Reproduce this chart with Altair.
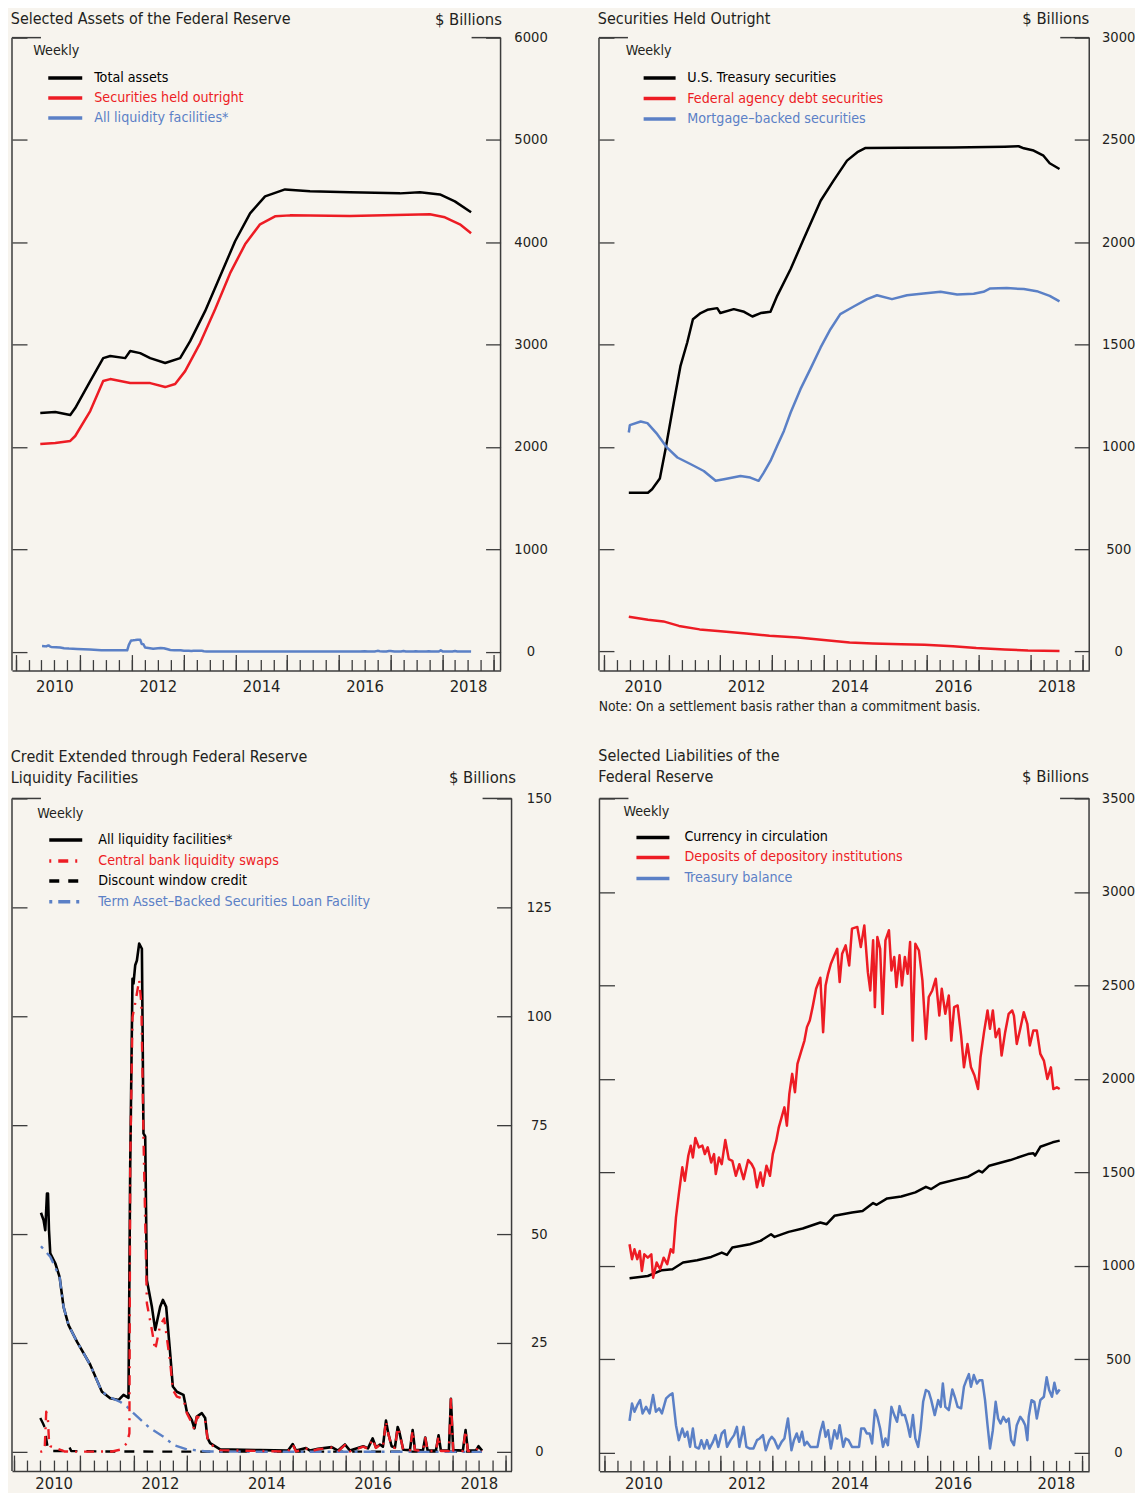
import altair as alt
import pandas as pd

# ---------------- data (decimal year, $ billions) ----------------
# Panel 1: Selected Assets of the Federal Reserve
TOTAL_ASSETS = [(2010.227, 2332), (2010.517, 2341), (2010.807, 2312), (2010.903, 2380), (2011.193, 2644),
                (2011.444, 2868), (2011.580, 2888), (2011.870, 2868), (2011.966, 2937), (2012.159, 2917),
                (2012.353, 2868), (2012.643, 2820), (2012.932, 2868), (2013.126, 3034), (2013.415, 3327),
                (2013.705, 3668), (2013.995, 4010), (2014.285, 4283), (2014.575, 4449), (2014.961, 4517),
                (2015.444, 4498), (2016.217, 4488), (2017.184, 4478), (2017.570, 4488), (2017.957, 4468),
                (2018.246, 4400), (2018.560, 4293)]
SEC_OUTRIGHT = [(2010.227, 2029), (2010.517, 2039), (2010.807, 2059), (2010.903, 2107), (2011.193, 2351),
                (2011.444, 2644), (2011.580, 2663), (2011.966, 2624), (2012.353, 2624), (2012.643, 2585),
                (2012.836, 2615), (2013.029, 2741), (2013.319, 3015), (2013.609, 3346), (2013.899, 3698),
                (2014.188, 3980), (2014.478, 4176), (2014.768, 4254), (2015.058, 4263), (2016.217, 4258),
                (2017.763, 4273), (2018.053, 4244), (2018.343, 4176), (2018.560, 4088)]
# All liquidity facilities (panel 1 and panel 3)
ALL_LIQ = [(2010.261, 54.9), (2010.310, 53.2), (2010.342, 50.9), (2010.374, 59.3), (2010.393, 59.3),
           (2010.412, 50.9), (2010.436, 45.6), (2010.530, 43.3), (2010.611, 40.2), (2010.686, 33.3),
           (2010.780, 29.1), (2010.938, 25.3), (2011.188, 20.0), (2011.408, 13.8), (2011.564, 12.3),
           (2011.720, 11.9), (2011.814, 13.1), (2011.908, 12.4), (2011.940, 65.4), (2011.983, 108.6),
           (2012.002, 107.5), (2012.034, 111.7), (2012.066, 112.8), (2012.109, 116.7), (2012.160, 115.5),
           (2012.190, 73.1), (2012.222, 72.4), (2012.254, 39.4), (2012.348, 33.3), (2012.410, 28.0),
           (2012.504, 33.3), (2012.555, 34.9), (2012.617, 33.3), (2012.692, 22.6), (2012.742, 15.0),
           (2012.818, 13.8), (2012.942, 13.1), (2013.006, 9.2), (2013.100, 7.3), (2013.148, 5.4),
           (2013.194, 8.1), (2013.288, 8.9), (2013.350, 7.8), (2013.393, 3.2), (2013.444, 2.0),
           (2013.632, 0.6), (2014.383, 0.4), (2014.910, 0.3), (2014.998, 1.8), (2015.060, 0.3),
           (2015.248, 0.9), (2015.323, 0.3), (2015.474, 0.7), (2015.731, 1.1), (2015.850, 0.3),
           (2015.981, 1.7), (2016.075, 0.3), (2016.325, 1.3), (2016.414, 0.8), (2016.502, 3.1),
           (2016.564, 1.0), (2016.639, 1.7), (2016.695, 1.2), (2016.752, 7.2), (2016.795, 4.3),
           (2016.859, 1.3), (2016.921, 1.0), (2016.972, 5.7), (2017.002, 4.7), (2017.077, 0.5),
           (2017.203, 0.4), (2017.254, 5.0), (2017.297, 0.5), (2017.447, 0.3), (2017.491, 3.3),
           (2017.536, 0.3), (2017.692, 0.3), (2017.742, 3.8), (2017.786, 0.3), (2017.936, 0.3),
           (2017.974, 12.2), (2018.017, 0.4), (2018.199, 0.3), (2018.250, 5.0), (2018.293, 0.3),
           (2018.444, 0.3), (2018.494, 1.3), (2018.560, 0.3)]

# Panel 2: Securities Held Outright
UST = [(2010.23, 776), (2010.60, 776), (2010.68, 793), (2010.83, 845), (2010.94, 988), (2011.10, 1217),
       (2011.23, 1396), (2011.36, 1510), (2011.47, 1624), (2011.62, 1654), (2011.75, 1670), (2011.94, 1678),
       (2012.00, 1654), (2012.26, 1673), (2012.46, 1660), (2012.62, 1637), (2012.78, 1654), (2012.97, 1660),
       (2013.10, 1738), (2013.36, 1869), (2013.61, 2015), (2013.94, 2203), (2014.19, 2301), (2014.45, 2399),
       (2014.65, 2440), (2014.81, 2461), (2015.50, 2462), (2016.50, 2463), (2017.50, 2467), (2017.77, 2469),
       (2017.87, 2459), (2018.06, 2448), (2018.25, 2423), (2018.37, 2386), (2018.56, 2358)]
AGENCY = [(2010.23, 170), (2010.60, 155), (2010.90, 147), (2011.20, 125), (2011.60, 108), (2011.95, 100),
          (2012.50, 88), (2012.95, 77), (2013.50, 68), (2013.95, 57), (2014.50, 44), (2014.95, 39),
          (2015.50, 35), (2015.95, 33), (2016.50, 26), (2016.95, 17), (2017.50, 10), (2017.95, 4.4),
          (2018.56, 2.4)]
MBS = [(2010.23, 1070), (2010.25, 1106), (2010.46, 1124), (2010.59, 1116), (2010.78, 1062), (2010.97, 996),
       (2011.17, 948), (2011.43, 915), (2011.68, 882), (2011.91, 834), (2012.07, 842), (2012.39, 858),
       (2012.58, 850), (2012.74, 834), (2012.84, 874), (2012.97, 931), (2013.10, 1005), (2013.23, 1078),
       (2013.36, 1168), (2013.55, 1282), (2013.74, 1380), (2013.94, 1486), (2014.13, 1575), (2014.32, 1649),
       (2014.58, 1686), (2014.84, 1722), (2015.03, 1741), (2015.32, 1722), (2015.61, 1741), (2015.93, 1750),
       (2016.26, 1758), (2016.58, 1745), (2016.90, 1748), (2017.09, 1758), (2017.22, 1774), (2017.54, 1776),
       (2017.87, 1771), (2018.12, 1761), (2018.37, 1738), (2018.56, 1711)]

# Panel 3: Credit Extended through Federal Reserve Liquidity Facilities
CB_SWAPS = [(2010.248, 0.0), (2010.330, 0.3), (2010.360, 9.2), (2010.390, 8.0), (2010.410, 3.0),
            (2010.436, 1.3), (2010.530, 0.9), (2010.700, 0.1), (2011.000, 0.05), (2011.600, 0.1),
            (2011.750, 0.5), (2011.880, 2.0), (2011.925, 4.3), (2011.940, 65.4), (2011.983, 99.8),
            (2012.034, 103.0), (2012.109, 108.3), (2012.150, 103.0), (2012.190, 72.0), (2012.254, 34.1),
            (2012.348, 28.0), (2012.410, 23.4), (2012.504, 29.1), (2012.580, 30.6), (2012.692, 20.6),
            (2012.742, 14.2), (2012.818, 12.7), (2012.942, 12.2), (2013.006, 8.9), (2013.100, 6.6),
            (2013.148, 5.1), (2013.194, 8.1), (2013.350, 7.3), (2013.393, 3.2), (2013.444, 1.8),
            (2013.632, 0.4), (2014.383, 0.2), (2014.910, 0.1), (2014.998, 1.7), (2015.060, 0.1),
            (2015.248, 0.8), (2015.323, 0.1), (2015.474, 0.6), (2015.731, 1.0), (2015.850, 0.1),
            (2015.981, 1.6), (2016.075, 0.1), (2016.325, 1.2), (2016.414, 0.7), (2016.502, 3.0),
            (2016.564, 0.9), (2016.639, 1.6), (2016.695, 1.1), (2016.752, 7.1), (2016.795, 4.2),
            (2016.859, 1.2), (2016.921, 0.9), (2016.972, 5.6), (2017.002, 4.6), (2017.077, 0.4),
            (2017.203, 0.3), (2017.254, 4.9), (2017.297, 0.4), (2017.447, 0.2), (2017.491, 3.2),
            (2017.536, 0.2), (2017.692, 0.2), (2017.742, 3.7), (2017.786, 0.2), (2017.936, 0.2),
            (2017.974, 12.1), (2018.017, 0.3), (2018.199, 0.2), (2018.250, 4.9), (2018.293, 0.2),
            (2018.444, 0.2), (2018.494, 1.2), (2018.560, 0.2)]
DISCOUNT = [(2010.248, 7.8), (2010.300, 6.5), (2010.330, 5.7), (2010.360, 3.0), (2010.385, 1.2),
            (2010.440, 0.2), (2010.780, 0.2), (2010.800, 1.0), (2010.830, 0.2), (2011.500, 0.1),
            (2013.000, 0.05), (2018.560, 0.05)]
TALF = [(2010.261, 47.2), (2010.436, 44.8), (2010.611, 40.2), (2010.686, 33.3), (2010.780, 29.1),
        (2010.938, 25.3), (2011.188, 20.0), (2011.408, 13.8), (2011.564, 12.5), (2011.752, 11.5),
        (2011.877, 10.4), (2012.002, 8.9), (2012.316, 5.4), (2012.566, 3.5), (2012.754, 1.6),
        (2013.006, 0.6), (2013.400, 0.1), (2014.000, 0.05), (2018.560, 0.0)]

# Panel 4: Selected Liabilities of the Federal Reserve
CURRENCY = [(2010.230, 934), (2010.585, 946), (2010.858, 977), (2011.063, 982), (2011.268, 1018),
            (2011.541, 1030), (2011.814, 1048), (2012.019, 1071), (2012.121, 1059), (2012.224, 1098),
            (2012.565, 1116), (2012.770, 1134), (2012.975, 1169), (2013.043, 1155), (2013.316, 1182),
            (2013.589, 1200), (2013.931, 1232), (2014.054, 1223), (2014.204, 1268), (2014.545, 1286),
            (2014.750, 1294), (2014.955, 1336), (2015.023, 1327), (2015.228, 1361), (2015.501, 1371),
            (2015.774, 1393), (2015.979, 1423), (2016.082, 1411), (2016.252, 1441), (2016.594, 1464),
            (2016.799, 1477), (2017.003, 1509), (2017.072, 1500), (2017.208, 1536), (2017.618, 1566),
            (2017.959, 1598), (2018.062, 1602), (2018.096, 1590), (2018.198, 1637), (2018.437, 1661),
            (2018.574, 1670)]
DEPOSITS = [(2010.230, 1116), (2010.278, 1036), (2010.326, 1089), (2010.380, 1036), (2010.428, 1080),
            (2010.469, 973), (2010.517, 1062), (2010.585, 1044), (2010.653, 1062), (2010.687, 937),
            (2010.756, 1018), (2010.824, 982), (2010.892, 1044), (2010.961, 1009), (2011.029, 1089),
            (2011.077, 1071), (2011.131, 1259), (2011.186, 1384), (2011.254, 1527), (2011.302, 1455),
            (2011.370, 1589), (2011.418, 1643), (2011.459, 1580), (2011.507, 1684), (2011.575, 1634),
            (2011.643, 1643), (2011.691, 1598), (2011.746, 1634), (2011.814, 1553), (2011.869, 1598),
            (2011.903, 1491), (2011.964, 1580), (2012.019, 1544), (2012.087, 1673), (2012.155, 1571),
            (2012.224, 1562), (2012.292, 1482), (2012.360, 1544), (2012.442, 1464), (2012.531, 1566),
            (2012.599, 1544), (2012.647, 1518), (2012.702, 1420), (2012.770, 1500), (2012.818, 1429),
            (2012.886, 1536), (2012.954, 1482), (2013.009, 1598), (2013.077, 1670), (2013.125, 1741),
            (2013.180, 1795), (2013.234, 1848), (2013.282, 1750), (2013.330, 1920), (2013.385, 2027),
            (2013.439, 1929), (2013.487, 2080), (2013.555, 2143), (2013.623, 2205), (2013.671, 2277),
            (2013.726, 2312), (2013.781, 2384), (2013.849, 2482), (2013.931, 2541), (2013.985, 2250),
            (2014.033, 2500), (2014.081, 2562), (2014.136, 2616), (2014.204, 2661), (2014.259, 2696),
            (2014.306, 2518), (2014.354, 2670), (2014.422, 2714), (2014.491, 2607), (2014.545, 2804),
            (2014.648, 2813), (2014.716, 2705), (2014.784, 2821), (2014.853, 2571), (2014.900, 2473),
            (2014.955, 2741), (2014.989, 2384), (2015.037, 2759), (2015.091, 2696), (2015.139, 2348),
            (2015.194, 2741), (2015.262, 2795), (2015.310, 2580), (2015.365, 2652), (2015.406, 2491),
            (2015.467, 2661), (2015.515, 2500), (2015.570, 2652), (2015.624, 2562), (2015.672, 2732),
            (2015.720, 2205), (2015.774, 2723), (2015.843, 2687), (2015.911, 2527), (2015.979, 2214),
            (2016.034, 2438), (2016.102, 2473), (2016.170, 2536), (2016.239, 2339), (2016.286, 2482),
            (2016.355, 2348), (2016.423, 2446), (2016.471, 2205), (2016.526, 2384), (2016.594, 2393),
            (2016.662, 2232), (2016.717, 2062), (2016.785, 2187), (2016.853, 2062), (2016.921, 2018),
            (2016.990, 1946), (2017.038, 2116), (2017.106, 2250), (2017.174, 2366), (2017.222, 2268),
            (2017.277, 2366), (2017.332, 2223), (2017.400, 2268), (2017.447, 2125), (2017.516, 2250),
            (2017.584, 2348), (2017.652, 2366), (2017.686, 2339), (2017.741, 2187), (2017.809, 2268),
            (2017.877, 2357), (2017.946, 2295), (2017.994, 2179), (2018.062, 2259), (2018.130, 2259),
            (2018.198, 2134), (2018.267, 2098), (2018.335, 2000), (2018.403, 2062), (2018.451, 1946),
            (2018.519, 1955), (2018.574, 1946)]
TREASURY_BAL = [(2010.230, 171), (2010.278, 264), (2010.326, 220), (2010.380, 255), (2010.435, 282),
                (2010.483, 211), (2010.551, 246), (2010.619, 211), (2010.687, 309), (2010.742, 220),
                (2010.804, 238), (2010.858, 211), (2010.940, 291), (2011.008, 309), (2011.063, 318),
                (2011.131, 148), (2011.186, 68), (2011.254, 130), (2011.302, 86), (2011.350, 113),
                (2011.404, 32), (2011.459, 130), (2011.507, 32), (2011.575, 23), (2011.623, 68),
                (2011.678, 23), (2011.732, 68), (2011.780, 23), (2011.848, 59), (2011.896, 95),
                (2011.951, 32), (2012.019, 104), (2012.074, 121), (2012.121, 32), (2012.190, 68),
                (2012.258, 95), (2012.313, 139), (2012.360, 32), (2012.442, 139), (2012.497, 32),
                (2012.565, 23), (2012.633, 23), (2012.702, 68), (2012.756, 77), (2012.818, 95),
                (2012.872, 14), (2012.941, 68), (2012.989, 86), (2013.043, 68), (2013.111, 23),
                (2013.180, 59), (2013.234, 77), (2013.303, 184), (2013.371, 14), (2013.419, 68),
                (2013.473, 104), (2013.521, 59), (2013.576, 113), (2013.623, 41), (2013.671, 59),
                (2013.740, 32), (2013.808, 32), (2013.876, 32), (2013.931, 113), (2013.985, 166),
                (2014.033, 86), (2014.081, 121), (2014.136, 23), (2014.204, 121), (2014.259, 77),
                (2014.306, 148), (2014.375, 32), (2014.422, 77), (2014.477, 68), (2014.545, 32),
                (2014.614, 32), (2014.682, 32), (2014.723, 130), (2014.784, 130), (2014.832, 104),
                (2014.887, 104), (2014.935, 50), (2014.989, 229), (2015.037, 193), (2015.091, 130),
                (2015.146, 32), (2015.194, 77), (2015.242, 41), (2015.310, 246), (2015.365, 202),
                (2015.419, 166), (2015.467, 250), (2015.515, 202), (2015.570, 202), (2015.624, 148),
                (2015.672, 86), (2015.727, 202), (2015.774, 77), (2015.829, 32), (2015.877, 130),
                (2015.925, 273), (2015.979, 336), (2016.034, 327), (2016.082, 282), (2016.150, 202),
                (2016.218, 282), (2016.266, 246), (2016.307, 371), (2016.355, 246), (2016.423, 229),
                (2016.491, 339), (2016.539, 300), (2016.594, 246), (2016.662, 238), (2016.717, 354),
                (2016.764, 389), (2016.812, 421), (2016.853, 354), (2016.908, 416), (2016.969, 371),
                (2017.017, 389), (2017.072, 389), (2017.126, 282), (2017.174, 148), (2017.222, 23),
                (2017.277, 121), (2017.332, 273), (2017.379, 184), (2017.427, 157), (2017.481, 193),
                (2017.536, 166), (2017.584, 184), (2017.632, 68), (2017.686, 41), (2017.741, 148),
                (2017.809, 193), (2017.857, 175), (2017.905, 148), (2017.946, 68), (2017.973, 193),
                (2018.027, 282), (2018.082, 273), (2018.130, 184), (2018.198, 282), (2018.267, 300),
                (2018.321, 404), (2018.369, 336), (2018.424, 300), (2018.471, 375), (2018.519, 318),
                (2018.574, 339)]

# ---------------- axis tick values and labels ----------------
Y1_TICKS = [0, 1000, 2000, 3000, 4000, 5000, 6000]
Y2_TICKS = [0, 500, 1000, 1500, 2000, 2500, 3000]
Y3_TICKS = [0, 25, 50, 75, 100, 125, 150]
Y4_TICKS = [0, 500, 1000, 1500, 2000, 2500, 3000, 3500]
QUARTER_TICKS = [2009.75 + 0.25 * i for i in range(38)]
YEAR_TICKS = [2009.75, 2011, 2012, 2013, 2014, 2015, 2016, 2017, 2018, 2019]
YEAR_LABEL_POS = [2010.5, 2012.5, 2014.5, 2016.5, 2018.5]

# ---------------- style ----------------
BG = "#f7f4ee"
RED = "#ed1c24"
BLUE = "#5b80c6"
BLACK = "#000000"
TXT = "#231f20"
FRAME = "#3c3c3c"
FONT = "'Liberation Sans Narrow', 'Arial Narrow', 'DejaVu Sans Condensed', 'Liberation Sans', sans-serif"
TITLE_SIZE = 16
BILL_SIZE = 16.5
LEG_SIZE = 14.2
XLAB_SIZE = 16.5
YLAB_SIZE = 14.6
NOTE_SIZE = 13.8
ONE = pd.DataFrame({"k": [0]})


def txt(s, x, y, size, color=TXT, align="left"):
    return alt.Chart(ONE).mark_text(text=s, font=FONT, fontSize=size, color=color,
                                    align=align, baseline="middle").encode(
        x=alt.value(x), y=alt.value(y))


def hrule(x0, x1, y, color, width, dash=None):
    kw = dict(color=color, strokeWidth=width, strokeCap="butt")
    if dash:
        kw["strokeDash"] = dash
    return alt.Chart(ONE).mark_rule(**kw).encode(x=alt.value(x0), x2=alt.value(x1), y=alt.value(y))


def vrule(x, y0, y1, color, width):
    return alt.Chart(ONE).mark_rule(color=color, strokeWidth=width, strokeCap="butt").encode(
        x=alt.value(x), y=alt.value(y0), y2=alt.value(y1))


def ax_quarter():
    return alt.Axis(orient="bottom", offset=-11, tickSize=11, values=QUARTER_TICKS, labels=False,
                    domain=False, ticks=True, tickColor=FRAME, tickWidth=1.3, grid=False, title=None)


def ax_year():
    return alt.Axis(orient="bottom", offset=-16, tickSize=16, values=YEAR_TICKS, labels=False,
                    domain=False, ticks=True, tickColor=FRAME, tickWidth=1.3, grid=False, title=None)


def ax_labels(pad):
    return alt.Axis(orient="bottom", offset=0, values=YEAR_LABEL_POS, ticks=False, tickSize=0,
                    labelExpr="format(floor(datum.value), 'd')", labelFont=FONT, labelFontSize=XLAB_SIZE,
                    labelColor=TXT, labelPadding=pad, labelFlush=False, labelOverlap=False,
                    domain=True, domainColor=FRAME, domainWidth=1.5, grid=False, title=None)


def ay_left(vals):
    return alt.Axis(orient="left", offset=-15, tickSize=15, values=vals, labels=False, domain=False,
                    ticks=True, tickColor=FRAME, tickWidth=1.3, grid=False, title=None)


def ay_right(vals, pad):
    return alt.Axis(orient="right", offset=-15, tickSize=15, values=vals, format="d",
                    labelAlign="center", labelBaseline="middle", labelPadding=pad, labelFont=FONT,
                    labelFontSize=YLAB_SIZE, labelColor=TXT, labelFlush=False, labelOverlap=False,
                    domain=False, ticks=True, tickColor=FRAME, tickWidth=1.3, grid=False, title=None)


def series_layer(pairs, color, width, dash, xs, ys, xa, ya):
    df = pd.DataFrame(pairs, columns=["t", "v"])
    kw = dict(color=color, strokeWidth=width, strokeJoin="round", clip=True)
    if dash:
        kw["strokeDash"] = dash
    return alt.Chart(df).mark_line(**kw).encode(
        x=alt.X("t:Q", scale=xs, axis=xa),
        y=alt.Y("v:Q", scale=ys, axis=ya))


def panel(cfg):
    w, h = cfg["w"], cfg["h"]
    xs = alt.Scale(domain=cfg["xdom"], nice=False, zero=False)
    ys = alt.Scale(domain=cfg["ydom"], nice=False, zero=False)
    axes = [(ax_quarter(), ay_left(cfg["yticks"])),
            (ax_year(), ay_right(cfg["yticks"], cfg["lpad"])),
            (ax_labels(cfg["xpad"]), None)]
    layers = []
    for i, (pairs, color, width, dash) in enumerate(cfg["series"]):
        xa, ya = axes[i] if i < len(axes) else (None, None)
        layers.append(series_layer(pairs, color, width, dash, xs, ys, xa, ya))
    # frame: left, right, top stubs
    layers += [vrule(0, 0, h, FRAME, 1.5), vrule(w, 0, h, FRAME, 1.5),
               hrule(0, 29, 0, FRAME, 1.5), hrule(w - 29, w, 0, FRAME, 1.5)]
    # titles
    for (s, x, y) in cfg["titles"]:
        layers.append(txt(s, x, y, TITLE_SIZE))
    bx, by = cfg["billions"]
    layers.append(txt("$ Billions", bx, by, BILL_SIZE, align="right"))
    # legend
    lg = cfg["legend"]
    layers.append(txt("Weekly", lg["weekly"][0], lg["weekly"][1], LEG_SIZE))
    for (label, color, dash), y in zip(lg["items"], lg["ys"]):
        layers.append(hrule(lg["x0"], lg["x1"], y, color, 3.5, dash))
        layers.append(txt(label, lg["xl"], y, LEG_SIZE, color=color))
    for (s, x, y, size) in cfg.get("notes", []):
        layers.append(txt(s, x, y, size))
    return alt.layer(*layers).properties(width=w, height=h).resolve_axis(x="independent", y="independent")


SWAP_DASH = [2, 7, 10, 7]
DW_DASH = [10, 9]
TALF_DASH = [3, 6, 12, 6]

p1 = panel(dict(
    w=489, h=633.5, xdom=[2009.68, 2019.13], ydom=[-185.5, 6000], yticks=Y1_TICKS, lpad=30, xpad=8,
    series=[(TOTAL_ASSETS, BLACK, 2.5, None), (SEC_OUTRIGHT, RED, 2.5, None), (ALL_LIQ, BLUE, 2.5, None)],
    titles=[("Selected Assets of the Federal Reserve", -1.2, -18.5)],
    billions=(490.3, -17.5),
    legend=dict(weekly=(21.3, 13.5), x0=36.3, x1=70.3, xl=82.3, ys=[40.5, 60.5, 80.5],
                items=[("Total assets", BLACK, None), ("Securities held outright", RED, None),
                       ("All liquidity facilities*", BLUE, None)]),
))

p2 = panel(dict(
    w=490.7, h=633.5, xdom=[2009.653, 2019.135], ydom=[-93.3, 3000], yticks=Y2_TICKS, lpad=29, xpad=8,
    series=[(UST, BLACK, 2.5, None), (AGENCY, RED, 2.5, None), (MBS, BLUE, 2.5, None)],
    titles=[("Securities Held Outright", -1.2, -18.5)],
    billions=(490.7, -18.5),
    legend=dict(weekly=(26.7, 13.5), x0=44.7, x1=76.7, xl=88.4, ys=[40.5, 61, 81.5],
                items=[("U.S. Treasury securities", BLACK, None), ("Federal agency debt securities", RED, None),
                       ("Mortgage\u2013backed securities", BLUE, None)]),
    notes=[("Note: On a settlement basis rather than a commitment basis.", -0.3, 669.5, NOTE_SIZE)],
))

p3 = panel(dict(
    w=500, h=673.2, xdom=[2009.716, 2019.115], ydom=[-4.4, 150], yticks=Y3_TICKS, lpad=27.3, xpad=4.5,
    series=[(ALL_LIQ, BLACK, 2.6, None), (DISCOUNT, BLACK, 2.4, DW_DASH), (TALF, BLUE, 2.4, TALF_DASH),
            (CB_SWAPS, RED, 2.4, SWAP_DASH)],
    titles=[("Credit Extended through Federal Reserve", -1.2, -41.5), ("Liquidity Facilities", -1.2, -20.5)],
    billions=(504.3, -20.5),
    legend=dict(weekly=(25.3, 15.5), x0=37.3, x1=70.3, xl=86.3, ys=[41.5, 62.5, 82.5, 103.5],
                items=[("All liquidity facilities*", BLACK, None), ("Central bank liquidity swaps", RED, SWAP_DASH),
                       ("Discount window credit", BLACK, DW_DASH),
                       ("Term Asset\u2013Backed Securities Loan Facility", BLUE, TALF_DASH)]),
))

p4 = panel(dict(
    w=490, h=673.5, xdom=[2009.647, 2019.143], ydom=[-98.9, 3500], yticks=Y4_TICKS, lpad=29, xpad=4.5,
    series=[(CURRENCY, BLACK, 2.5, None), (DEPOSITS, RED, 2.5, None), (TREASURY_BAL, BLUE, 2.5, None)],
    titles=[("Selected Liabilities of the", -1.2, -42), ("Federal Reserve", -1.2, -21)],
    billions=(490, -21),
    legend=dict(weekly=(24, 14), x0=37, x1=70, xl=85, ys=[39, 59, 80],
                items=[("Currency in circulation", BLACK, None), ("Deposits of depository institutions", RED, None),
                       ("Treasury balance", BLUE, None)]),
))

top = alt.hconcat(p1, p2, spacing=49.5)
bottom = alt.hconcat(p3, p4, spacing=46)
chart = alt.vconcat(top, bottom, spacing=34.5).properties(
    padding={"left": 2, "top": 2, "right": 0, "bottom": 0},
    background=BG,
).configure_view(stroke=None)

chart.save("out.html", embed_options={"renderer": "svg", "actions": False})
